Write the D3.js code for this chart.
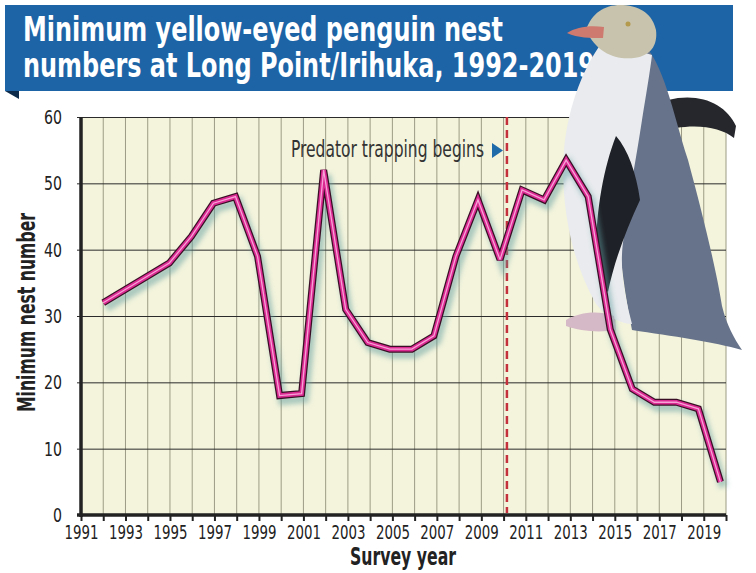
<!DOCTYPE html>
<html>
<head>
<meta charset="utf-8">
<script src="https://cdn.jsdelivr.net/npm/d3@7"></script>
<style>
	body { margin: 0; background: #fff; }
	text { font-family: "Liberation Sans Narrow", "DejaVu Sans Condensed", "Roboto Condensed", sans-serif; }
</style>
</head>
<body>
<script>
var w = 756;
var h = 573;

//Data
var years = [1992, 1993, 1994, 1995, 1996, 1997, 1998, 1999, 2000, 2001,
	2002, 2003, 2004, 2005, 2006, 2007, 2008, 2009, 2010, 2011,
	2012, 2013, 2014, 2015, 2016, 2017, 2018, 2019, 2020];
var nests = [32, 34, 36, 38, 42, 47, 48, 39, 18, 18.3,
	52, 31, 26, 25, 25, 27, 39, 47.5, 38.5, 49,
	47.5, 53.5, 48, 28, 19, 17, 17, 16, 5];
var yearTicks = [1991, 1993, 1995, 1997, 1999, 2001, 2003, 2005, 2007, 2009,
	2011, 2013, 2015, 2017, 2019];
var nestTicks = [0, 10, 20, 30, 40, 50, 60];
var trapYear = 2010.15;
var titleLines = ["Minimum yellow-eyed penguin nest", "numbers at Long Point/Irihuka, 1992-2019"];

var pLeft = 81, pRight = 726, pTop = 117, pBottom = 515;

var x = d3.scaleLinear().domain([1991, 2020]).range([pLeft, pRight]);
//survey seasons sit a little left of the year lines
var xs = d3.scaleLinear().domain([1992, 2020]).range([x(1992), x(2019.75)]);
var y = d3.scaleLinear().domain([0, 60]).range([pBottom, pTop]);

var svg = d3.select("body")
	.append("svg")
	.attr("width", w)
	.attr("height", h);

var defs = svg.append("defs");
defs.append("filter").attr("id", "blur")
	.attr("x", "-10%").attr("y", "-10%").attr("width", "120%").attr("height", "120%")
	.append("feGaussianBlur").attr("stdDeviation", 2.5);

//Plot background
svg.append("rect")
	.attr("x", pLeft).attr("y", pTop)
	.attr("width", pRight - pLeft).attr("height", pBottom - pTop)
	.attr("fill", "#f4f4dc");

//Vertical grid, one per year
svg.append("g")
	.selectAll("line")
	.data(d3.range(1992, 2021))
	.enter()
	.append("line")
	.attr("x1", function(d) { return x(d); })
	.attr("x2", function(d) { return x(d); })
	.attr("y1", pTop).attr("y2", pBottom)
	.attr("stroke", "#9c9c86")
	.attr("stroke-width", 1);

//Horizontal grid + y axis
var yAxis = d3.axisLeft(y)
	.tickValues(nestTicks)
	.tickSize(-(pRight - pLeft) - 4)
	.tickPadding(15)
	.tickFormat(d3.format("d"));
var gy = svg.append("g")
	.attr("transform", "translate(" + (pLeft - 4) + ",0)")
	.call(yAxis);
gy.select(".domain").remove();
gy.selectAll("line").attr("stroke", "#2b2b2b").attr("stroke-width", 1);
gy.selectAll("text")
	.attr("font-size", 20)
	.attr("fill", "#222")
	.attr("textLength", function(d) { return d < 10 ? 9 : 18; })
	.attr("lengthAdjust", "spacingAndGlyphs");

//X axis
var xAxis = d3.axisBottom(x)
	.tickValues(d3.range(1991, 2021))
	.tickSize(6)
	.tickPadding(4)
	.tickFormat(function(d) { return yearTicks.indexOf(d) >= 0 ? d : ""; });
var gx = svg.append("g")
	.attr("transform", "translate(0," + pBottom + ")")
	.call(xAxis);
gx.select(".domain").remove();
gx.selectAll("line").attr("stroke", "#222").attr("stroke-width", 2);
gx.selectAll("text")
	.attr("font-size", 20)
	.attr("fill", "#222")
	.filter(function(d) { return yearTicks.indexOf(d) >= 0; })
	.attr("textLength", 34)
	.attr("lengthAdjust", "spacingAndGlyphs");

//Axis lines
svg.append("line")
	.attr("x1", pLeft).attr("x2", pLeft)
	.attr("y1", pTop).attr("y2", pBottom + 2)
	.attr("stroke", "#222").attr("stroke-width", 3.5);
svg.append("line")
	.attr("x1", pLeft - 4).attr("x2", pRight)
	.attr("y1", pBottom).attr("y2", pBottom)
	.attr("stroke", "#222").attr("stroke-width", 3.5);

//Predator trapping line + label
svg.append("line")
	.attr("x1", x(trapYear)).attr("x2", x(trapYear))
	.attr("y1", pTop).attr("y2", pBottom - 2)
	.attr("stroke", "#c4303c")
	.attr("stroke-width", 2.5)
	.attr("stroke-dasharray", "8,5");
svg.append("text")
	.attr("x", 291).attr("y", 157)
	.attr("font-size", 23)
	.attr("fill", "#333")
	.attr("textLength", 193)
	.attr("lengthAdjust", "spacingAndGlyphs")
	.text("Predator trapping begins");
svg.append("path")
	.attr("d", "M492,143 L503,150.5 L492,158 Z")
	.attr("fill", "#1f6aa8");

//Axis titles
svg.append("text")
	.attr("transform", "translate(35,412) rotate(-90)")
	.attr("font-size", 24)
	.attr("font-weight", "bold")
	.attr("fill", "#222")
	.attr("textLength", 199)
	.attr("lengthAdjust", "spacingAndGlyphs")
	.text("Minimum nest number");
svg.append("text")
	.attr("x", 350).attr("y", 565)
	.attr("font-size", 24)
	.attr("font-weight", "bold")
	.attr("fill", "#222")
	.attr("textLength", 106)
	.attr("lengthAdjust", "spacingAndGlyphs")
	.text("Survey year");

//Title banner
svg.append("rect")
	.attr("x", 5).attr("y", 5)
	.attr("width", 728).attr("height", 86)
	.attr("fill", "#1d64a6");
svg.append("path")
	.attr("d", "M5,91 L19,91 L19,99 Z")
	.attr("fill", "#0d2a4a");
svg.selectAll(".title")
	.data(titleLines)
	.enter()
	.append("text")
	.attr("class", "title")
	.attr("x", 23)
	.attr("y", function(d, i) { return 41 + i * 36; })
	.attr("font-size", 34)
	.attr("font-weight", "bold")
	.attr("fill", "#fff")
	.attr("textLength", function(d, i) { return i == 0 ? 480 : 572; })
	.attr("lengthAdjust", "spacingAndGlyphs")
	.text(function(d) { return d; });

//Penguin (rough drawing of the photo)
var peng = svg.append("g");
peng.append("path") //far flipper
	.attr("d", "M668,100 C700,92 726,104 736,126 L734,138 C722,128 700,124 676,128 Z")
	.attr("fill", "#25272d");
peng.append("path") //grey back
	.attr("d", "M640,40 C664,62 672,110 688,160 C702,212 716,268 722,306 C727,326 734,338 742,350 C714,342 672,336 632,330 C622,280 616,230 620,190 C622,130 628,85 640,40 Z")
	.attr("fill", "#67738a");
peng.append("path") //white front
	.attr("d", "M604,40 C586,62 568,104 564,150 C560,206 572,262 596,304 C608,318 622,324 632,324 C626,300 618,270 624,236 C628,200 636,160 642,120 C646,95 650,72 652,55 Z")
	.attr("fill", "#e9ebee");
peng.append("path") //front flipper
	.attr("d", "M616,136 C604,166 596,210 596,252 C597,272 602,286 608,292 C614,262 626,230 640,200 C636,172 628,150 616,136 Z")
	.attr("fill", "#1e2127");
peng.append("path") //feet
	.attr("d", "M566,320 C580,312 598,310 614,316 L616,330 C598,333 580,331 566,326 Z")
	.attr("fill", "#d6b9c6");
peng.append("path") //head
	.attr("d", "M586,30 C592,12 606,4 623,5 C641,6 653,15 656,30 C658,46 650,56 634,58 C614,60 596,52 586,30 Z")
	.attr("fill", "#c8c3ac");
peng.append("path") //beak
	.attr("d", "M567,33 C576,27 590,25 604,27 L603,38 C590,38 578,38 567,33 Z")
	.attr("fill", "#cf7a6e");
peng.append("circle")
	.attr("cx", 628).attr("cy", 24).attr("r", 2.5)
	.attr("fill", "#b39a4c");

//Nest line
var line = d3.line()
	.x(function(d, i) { return xs(years[i]); })
	.y(function(d) { return y(d); });

svg.append("path")
	.attr("d", line(nests))
	.attr("transform", "translate(3,5)")
	.attr("fill", "none")
	.attr("stroke", "#5f9ea0")
	.attr("stroke-opacity", 0.5)
	.attr("stroke-width", 9)
	.attr("filter", "url(#blur)");
svg.append("path")
	.attr("d", line(nests))
	.attr("fill", "none")
	.attr("stroke", "#3a0f25")
	.attr("stroke-width", 7)
	.attr("stroke-linejoin", "miter")
	.attr("stroke-miterlimit", 3);
svg.append("path")
	.attr("d", line(nests))
	.attr("fill", "none")
	.attr("stroke", "#dc2a93")
	.attr("stroke-width", 4.5)
	.attr("stroke-linejoin", "miter")
	.attr("stroke-miterlimit", 3);
svg.append("path")
	.attr("d", line(nests))
	.attr("fill", "none")
	.attr("stroke", "#f7a2d6")
	.attr("stroke-width", 1.3)
	.attr("stroke-linejoin", "miter")
	.attr("stroke-miterlimit", 3);
</script>
</body>
</html>
